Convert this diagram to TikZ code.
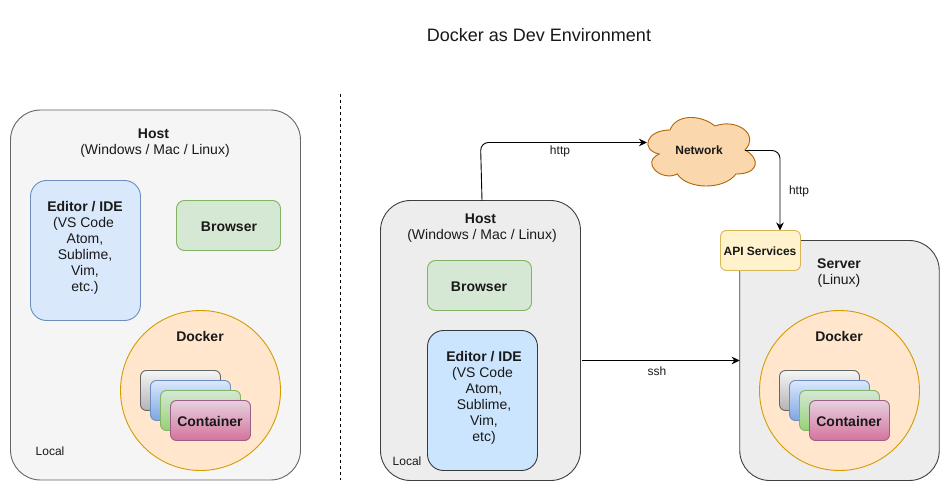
\documentclass[tikz,border=0pt]{standalone}
\usepackage{fontspec}
\setmainfont{Liberation Sans}
\usetikzlibrary{arrows.meta}
\tikzset{
  every node/.style={inner sep=0pt,outer sep=0pt,text=black!90},
  big/.style={font=\fontsize{14}{16}\selectfont,align=center},
  small/.style={font=\fontsize{12}{14}\selectfont,align=center},
  smallb/.style={font=\fontsize{12}{14}\selectfont\bfseries,align=center},
  bigb/.style={font=\fontsize{14}{16}\selectfont\bfseries,align=center},
  box/.style={draw,line width=0.9pt,rectangle},
  hostl/.style={box,rounded corners=30pt,fill=black!4,draw=black!60},
  hostr/.style={box,rounded corners=30pt,fill=black!7,draw=black!75},
  editorl/.style={box,rounded corners=16pt,fill={rgb,255:red,218;green,232;blue,252},draw={rgb,255:red,108;green,142;blue,191},minimum width=110pt,minimum height=140pt},
  editorr/.style={box,rounded corners=16pt,fill={rgb,255:red,204;green,229;blue,255},draw={rgb,255:red,54;green,57;blue,61},minimum width=110pt,minimum height=140pt},
  browserbox/.style={box,rounded corners=8pt,fill={rgb,255:red,213;green,232;blue,212},draw={rgb,255:red,130;green,179;blue,102},minimum width=104pt,minimum height=50pt},
  dockerc/.style={draw,line width=0.9pt,circle,minimum size=160pt,fill={rgb,255:red,255;green,230;blue,204},draw={rgb,255:red,215;green,155;blue,0}},
  cbox/.style={box,rounded corners=6pt,minimum width=80pt,minimum height=40pt},
  cgrey/.style={cbox,top color={rgb,255:red,245;green,245;blue,245},bottom color={rgb,255:red,179;green,179;blue,179},draw={rgb,255:red,102;green,102;blue,102}},
  cblue/.style={cbox,top color={rgb,255:red,218;green,232;blue,252},bottom color={rgb,255:red,126;green,166;blue,224},draw={rgb,255:red,108;green,142;blue,191}},
  cgreen/.style={cbox,top color={rgb,255:red,213;green,232;blue,212},bottom color={rgb,255:red,151;green,208;blue,119},draw={rgb,255:red,130;green,179;blue,102}},
  cpink/.style={cbox,top color={rgb,255:red,230;green,208;blue,222},bottom color={rgb,255:red,213;green,115;blue,157},draw={rgb,255:red,153;green,97;blue,133}},
  apibox/.style={box,rounded corners=6pt,fill={rgb,255:red,255;green,242;blue,204},draw={rgb,255:red,214;green,182;blue,86},minimum width=80pt,minimum height=40pt},
  conn/.style={draw=black,line width=0.9pt,-{Stealth[length=8pt,width=7.5pt,inset=2.5pt]},rounded corners=8pt},
}
\begin{document}
\begin{tikzpicture}[x=1pt,y=-1pt]
\fill[white] (0,0) rectangle (950,492);
\useasboundingbox (0,0) rectangle (950,492);
\node[font=\fontsize{18}{20}\selectfont] (title) at (539,35) {Docker as Dev Environment};
% divider
\coordinate (divtop) at (340,94);
\coordinate (divbot) at (340,480);
\draw[black,line width=0.9pt,dash pattern=on 3pt off 3pt] (divtop) -- (divbot);
% left host
\node[hostl,minimum width=290pt,minimum height=370pt] (lhost) at (155.5,295) {};
\node[big] (lhosttext) at (155,143.5) {\mbox{\textbf{Host}\hspace{3pt}}\\(Windows / Mac / Linux)};
\node[editorl] (ledit) at (85.5,250.5) {};
\node[big] (ledittext) at (85,247.5) {\textbf{Editor / IDE}\\\mbox{(VS Code\hspace{3pt}}\\Atom,\\Sublime,\\Vim,\\etc.)};
\node[browserbox] (lbrowser) at (228.5,225.5) {};
\node[bigb] (lbrowsertext) at (229,226.5) {Browser};
\node[dockerc] (ldocker) at (200.5,390.5) {};
\node[bigb] (ldockertext) at (200,336.5) {Docker};
\node[cgrey] (lc1) at (180.5,390.5) {};
\node[cblue] (lc2) at (190.5,400.5) {};
\node[cgreen] (lc3) at (200.5,410.5) {};
\node[cpink] (lc4) at (210.5,420.5) {};
\node[bigb] (lc4text) at (210,421) {Container};
\node[small] (llocal) at (50,451) {Local};
% right host
\node[hostr,minimum width=200pt,minimum height=280pt] (rhost) at (480.5,340.5) {};
\node[big] (rhosttext) at (482,228.5) {\mbox{\textbf{Host}\hspace{3pt}}\\(Windows / Mac / Linux)};
\node[browserbox] (rbrowser) at (479.5,285.5) {};
\node[bigb] (rbrowsertext) at (479,286.5) {Browser};
\node[editorr] (redit) at (482.5,400.5) {};
\node[big] (redittext) at (484,397.5) {\textbf{Editor / IDE}\\\mbox{(VS Code\hspace{3pt}}\\Atom,\\Sublime,\\Vim,\\etc)};
\node[small] (rlocal) at (407,461) {Local};
% server
\node[hostr,minimum width=199.5pt,minimum height=240pt] (server) at (839.5,360.5) {};
\node[big] (servertext) at (839,273.5) {\textbf{Server}\\(Linux)};
\node[dockerc] (rdocker) at (839.5,390.5) {};
\node[bigb] (rdockertext) at (839,336.5) {Docker};
\node[cgrey] (rc1) at (819.5,390.5) {};
\node[cblue] (rc2) at (829.5,400.5) {};
\node[cgreen] (rc3) at (839.5,410.5) {};
\node[cpink] (rc4) at (849.5,420.5) {};
\node[bigb] (rc4text) at (849,421) {Container};
\node[apibox] (api) at (760.5,250.5) {};
\node[smallb] (apitext) at (760,251) {API Services};
% cloud
\draw[line width=0.9pt,fill={rgb,255:red,250;green,215;blue,172},draw={rgb,255:red,180;green,101;blue,4}]
  (670,130) .. controls (646,130) and (640,150) .. (659.2,154)
  .. controls (640,162.8) and (661.6,182) .. (677.2,174)
  .. controls (688,190) and (724,190) .. (736,174)
  .. controls (760,174) and (760,158) .. (745,150)
  .. controls (760,134) and (736,118) .. (715,126)
  .. controls (700,114) and (676,114) .. (670,130) -- cycle;
\node[font=\fontsize{12}{14}\selectfont\bfseries,minimum width=110pt,minimum height=70pt] (network) at (699,150.5) {Network};
% connectors
\coordinate (bend) at (480.5,142.5);
\draw[conn] ([xshift=1.5pt]rhost.north) -- (bend) -- ([shift={(3pt,8pt)}]network.west);
\draw[conn] ([xshift=-9pt]network.east) -| ([xshift=19.5pt]api.north);
\draw[conn] ([shift={(1.5pt,-20pt)}]rhost.east) -- (server.west);
\node[small] (httpa) at (560,151) {http};
\node[small] (httpb) at (799,191) {http};
\node[small] (sshl) at (657,371) {ssh};
\end{tikzpicture}
\end{document}
